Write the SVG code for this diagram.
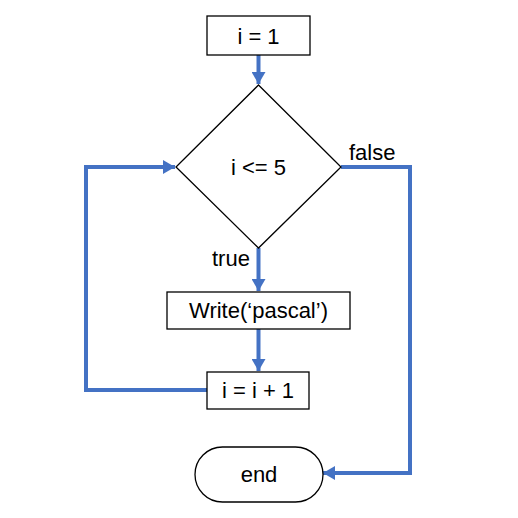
<svg xmlns="http://www.w3.org/2000/svg" width="518" height="518" viewBox="0 0 518 518">
<style>
.n{fill:#fff;stroke:#000;stroke-width:1.3}
.c{fill:none;stroke:#4472C4;stroke-width:4}
.t{font-family:"Liberation Sans",Arial,sans-serif;font-size:22px;fill:#000;text-anchor:middle}
.l{font-family:"Liberation Sans",Arial,sans-serif;font-size:22px;fill:#000}
</style>
<defs>
<marker id="a" markerUnits="userSpaceOnUse" markerWidth="14" markerHeight="14" refX="12" refY="7" orient="auto">
<path d="M0,0 L12,7 L0,14 Z" fill="#4472C4"/>
</marker>
</defs>
<rect width="518" height="518" fill="#fff"/>
<g id="connectors">
<path class="c" d="M258.5,55 V84" marker-end="url(#a)"/>
<path class="c" d="M258.5,248 V291" marker-end="url(#a)"/>
<path class="c" d="M258.5,329 V371" marker-end="url(#a)"/>
<path class="c" d="M207,390 H86 V167 H175" marker-end="url(#a)"/>
<path class="c" d="M341,167 H410 V473 H323" marker-end="url(#a)"/>
</g>
<g id="start">
<rect class="n" x="207" y="16" width="103" height="39"/>
<text class="t" x="258.5" y="44">i = 1</text>
</g>
<g id="cond">
<polygon class="n" points="258.5,85 341,167 258.5,248 176,167"/>
<text class="t" x="258.5" y="175">i &lt;= 5</text>
</g>
<g id="write">
<rect class="n" x="167" y="292" width="183" height="37"/>
<text class="t" x="258.5" y="318">Write(‘pascal’)</text>
</g>
<g id="inc">
<rect class="n" x="207" y="372" width="102" height="37"/>
<text class="t" x="258" y="398">i = i + 1</text>
</g>
<g id="end">
<rect class="n" x="195" y="447" width="128" height="55" rx="27.5" ry="27.5"/>
<text class="t" x="259" y="482">end</text>
</g>
<g id="labels">
<text class="l" x="349" y="160">false</text>
<text class="l" x="212" y="266">true</text>
</g>
</svg>
